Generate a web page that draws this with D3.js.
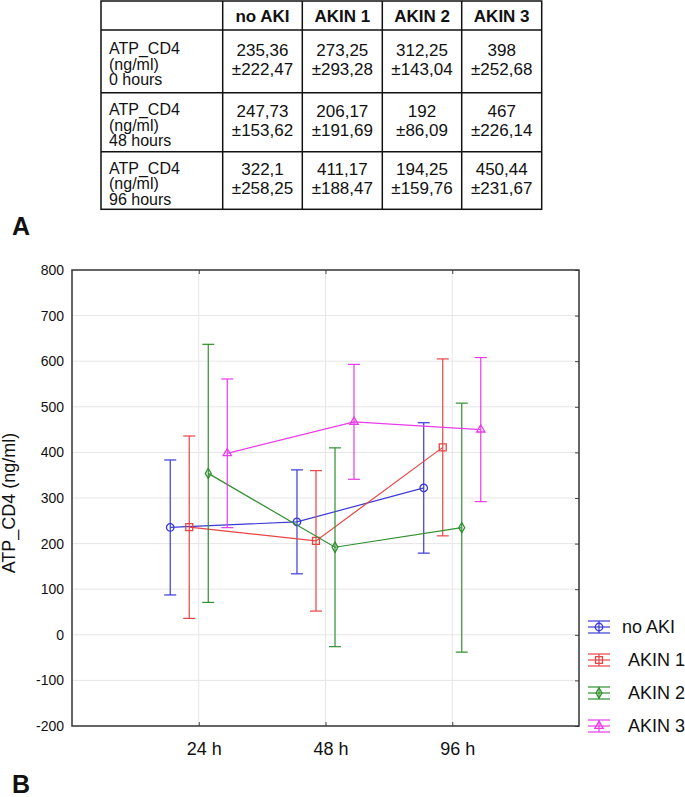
<!DOCTYPE html>
<html><head><meta charset="utf-8">
<script src="https://cdn.jsdelivr.net/npm/d3@7"></script>
<style>body{margin:0;background:#fff;} svg{display:block;font-family:"Liberation Sans",Arial,sans-serif;}</style>
</head><body>
<svg id="c" width="685" height="797"></svg>
<script>
// ---- Table data ----
const tableHeaders = ["no AKI", "AKIN 1", "AKIN 2", "AKIN 3"];
const tableRowLabels = [["ATP_CD4", "(ng/ml)", "0 hours"], ["ATP_CD4", "(ng/ml)", "48 hours"], ["ATP_CD4", "(ng/ml)", "96 hours"]];
const tableMeans = [["235,36", "273,25", "312,25", "398"], ["247,73", "206,17", "192", "467"], ["322,1", "411,17", "194,25", "450,44"]];
const tableSDs = [["±222,47", "±293,28", "±143,04", "±252,68"], ["±153,62", "±191,69", "±86,09", "±226,14"], ["±258,25", "±188,47", "±159,76", "±231,67"]];

// ---- Chart data ----
const timeLabels = ["24 h", "48 h", "96 h"];
const groups = ["no AKI", "AKIN 1", "AKIN 2", "AKIN 3"];
const noAKIMean = [235.4, 247.7, 322.1];
const noAKIErr = [148, 114, 143];
const akin1Mean = [236, 206, 411];
const akin1Err = [200, 154, 194];
const akin2Mean = [354, 192, 235];
const akin2Err = [283, 218, 273];
const akin3Mean = [398, 467, 450];
const akin3Err = [163, 126, 158];
const yTicks = [-200, -100, 0, 100, 200, 300, 400, 500, 600, 700, 800];

const colors = ["#3a3ad6", "#e84444", "#2f8f2f", "#e83ce8"];
const symbols = [d3.symbolCircle, d3.symbolSquare, d3.symbolDiamond, d3.symbolTriangle];
const symSizes = [44, 48, 30, 30];
const means = [noAKIMean, akin1Mean, akin2Mean, akin3Mean];
const errs = [noAKIErr, akin1Err, akin2Err, akin3Err];

const svg = d3.select("#c");

// ---- Table ----
const colX = [101, 222.7, 302.3, 382.3, 461.7, 541.7];
const rowY = [1, 30, 92.7, 151.7, 209.3];
const tg = svg.append("g");
tg.append("rect").attr("x", colX[0]).attr("y", rowY[0]).attr("width", colX[5] - colX[0]).attr("height", rowY[4] - rowY[0])
  .attr("fill", "none").attr("stroke", "#111").attr("stroke-width", 1.5);
colX.slice(1, 5).forEach(x => tg.append("line").attr("x1", x).attr("x2", x).attr("y1", rowY[0]).attr("y2", rowY[4]).attr("stroke", "#111").attr("stroke-width", 1.5));
rowY.slice(1, 4).forEach(y => tg.append("line").attr("x1", colX[0]).attr("x2", colX[5]).attr("y1", y).attr("y2", y).attr("stroke", "#111").attr("stroke-width", 1.5));
tableHeaders.forEach((h, i) => {
  tg.append("text").attr("x", (colX[i + 1] + colX[i + 2]) / 2).attr("y", (rowY[0] + rowY[1]) / 2 + 6)
    .attr("text-anchor", "middle").attr("font-weight", "bold").attr("font-size", 17).attr("fill", "#111").text(h);
});
tableRowLabels.forEach((lines, r) => {
  const cy = (rowY[r + 1] + rowY[r + 2]) / 2;
  lines.forEach((t, k) => {
    tg.append("text").attr("x", 109).attr("y", cy + (k - 1) * 15.5 + 8.5).attr("font-size", 16).attr("fill", "#111").text(t);
  });
  for (let c = 0; c < 4; c++) {
    const cx = (colX[c + 1] + colX[c + 2]) / 2;
    tg.append("text").attr("x", cx).attr("y", cy - 9.5 + 4).attr("text-anchor", "middle").attr("font-size", 17).attr("fill", "#111").text(tableMeans[r][c]);
    tg.append("text").attr("x", cx).attr("y", cy + 9.5 + 4).attr("text-anchor", "middle").attr("font-size", 17).attr("fill", "#111").text(tableSDs[r][c]);
  }
});
svg.append("text").attr("x", 12).attr("y", 235).attr("font-size", 25).attr("font-weight", "bold").attr("fill", "#111").text("A");
svg.append("text").attr("x", 12).attr("y", 793).attr("font-size", 25).attr("font-weight", "bold").attr("fill", "#111").text("B");

// ---- Chart ----
const L = 72, R = 579, T = 270, B = 726;
const x = d3.scaleLinear().domain([0, 4]).range([L, R]);
const y = d3.scaleLinear().domain([-200, 800]).range([B, T]);
const offsets = [-0.225, -0.075, 0.075, 0.225];

const g = svg.append("g");
// grid
g.selectAll(".hg").data(yTicks.slice(1, -1)).join("line")
  .attr("x1", L).attr("x2", R).attr("y1", d => y(d)).attr("y2", d => y(d)).attr("stroke", "#e6e6e6").attr("stroke-width", 1);
g.selectAll(".vg").data(timeLabels).join("line")
  .attr("x1", (d, i) => x(i + 1)).attr("x2", (d, i) => x(i + 1)).attr("y1", T).attr("y2", B).attr("stroke", "#e6e6e6").attr("stroke-width", 1);

// y axis labels
const yAxis = d3.axisLeft(y).tickValues(yTicks).tickSize(0).tickPadding(8).tickFormat(d => String(d));
g.append("g").attr("transform", `translate(${L},0)`).call(yAxis)
  .call(s => s.select(".domain").remove())
  .call(s => s.selectAll("text").attr("font-size", 14).attr("fill", "#111").attr("font-family", "Liberation Sans, Arial, sans-serif"));
// right ticks
const yAxisR = d3.axisLeft(y).tickValues(yTicks).tickSize(4).tickFormat("");
g.append("g").attr("transform", `translate(${R},0)`).call(yAxisR)
  .call(s => s.select(".domain").remove()).call(s => s.selectAll("line").attr("stroke", "#444"));
// x axis
const xAxis = d3.axisBottom(x).tickValues([1, 2, 3]).tickFormat((d, i) => timeLabels[i]).tickSize(-4).tickPadding(16);
g.append("g").attr("transform", `translate(0,${B})`).call(xAxis)
  .call(s => s.select(".domain").remove())
  .call(s => s.selectAll("line").attr("stroke", "#444"))
  .call(s => s.selectAll("text").attr("font-size", 18).attr("fill", "#111").attr("dx", 5).attr("font-family", "Liberation Sans, Arial, sans-serif"));
const xAxisT = d3.axisTop(x).tickValues([1, 2, 3]).tickSize(-4).tickFormat("");
g.append("g").attr("transform", `translate(0,${T})`).call(xAxisT)
  .call(s => s.select(".domain").remove()).call(s => s.selectAll("line").attr("stroke", "#444"));
// frame
g.append("rect").attr("x", L).attr("y", T).attr("width", R - L).attr("height", B - T).attr("fill", "none").attr("stroke", "#333").attr("stroke-width", 1.5);

// y label
svg.append("text").attr("transform", `translate(15,${(T + B) / 2 + 5}) rotate(-90)`).attr("text-anchor", "middle")
  .attr("font-size", 18).attr("fill", "#111").text("ATP_CD4 (ng/ml)");

// series
const cap = 6;
groups.forEach((name, gi) => {
  const col = colors[gi];
  const pts = means[gi].map((m, i) => ({ x: x(i + 1 + offsets[gi]), m, e: errs[gi][i] }));
  const sg = g.append("g");
  sg.append("path").attr("d", d3.line().x(d => d.x).y(d => y(d.m))(pts)).attr("fill", "none").attr("stroke", col).attr("stroke-width", 1.2);
  pts.forEach(p => {
    sg.append("line").attr("x1", p.x).attr("x2", p.x).attr("y1", y(p.m + p.e)).attr("y2", y(p.m - p.e)).attr("stroke", col).attr("stroke-width", 1.2);
    [p.m + p.e, p.m - p.e].forEach(v => sg.append("line").attr("x1", p.x - cap).attr("x2", p.x + cap).attr("y1", y(v)).attr("y2", y(v)).attr("stroke", col).attr("stroke-width", 1.2));
    sg.append("path").attr("d", d3.symbol(symbols[gi], symSizes[gi])()).attr("transform", `translate(${p.x},${y(p.m)})`)
      .attr("fill", "none").attr("stroke", col).attr("stroke-width", 1.3);
  });
});

// legend
const lg = svg.append("g");
groups.forEach((name, gi) => {
  const cy = 627 + gi * 33;
  const cx = 599, col = colors[gi];
  const it = lg.append("g");
  it.append("line").attr("x1", cx - 11).attr("x2", cx + 11).attr("y1", cy).attr("y2", cy).attr("stroke", col).attr("stroke-width", 1.2);
  it.append("line").attr("x1", cx - 11).attr("x2", cx + 11).attr("y1", cy - 6).attr("y2", cy - 6).attr("stroke", col).attr("stroke-width", 1.2);
  it.append("line").attr("x1", cx - 11).attr("x2", cx + 11).attr("y1", cy + 6).attr("y2", cy + 6).attr("stroke", col).attr("stroke-width", 1.2);
  it.append("line").attr("x1", cx).attr("x2", cx).attr("y1", cy - 6).attr("y2", cy + 6).attr("stroke", col).attr("stroke-width", 1.2);
  it.append("path").attr("d", d3.symbol(symbols[gi], symSizes[gi])()).attr("transform", `translate(${cx},${cy})`)
    .attr("fill", "none").attr("stroke", col).attr("stroke-width", 1.3);
  it.append("text").attr("x", gi === 0 ? 622 : 628).attr("y", cy + 6).attr("font-size", 18).attr("fill", "#111").text(name);
});
</script>
</body></html>
